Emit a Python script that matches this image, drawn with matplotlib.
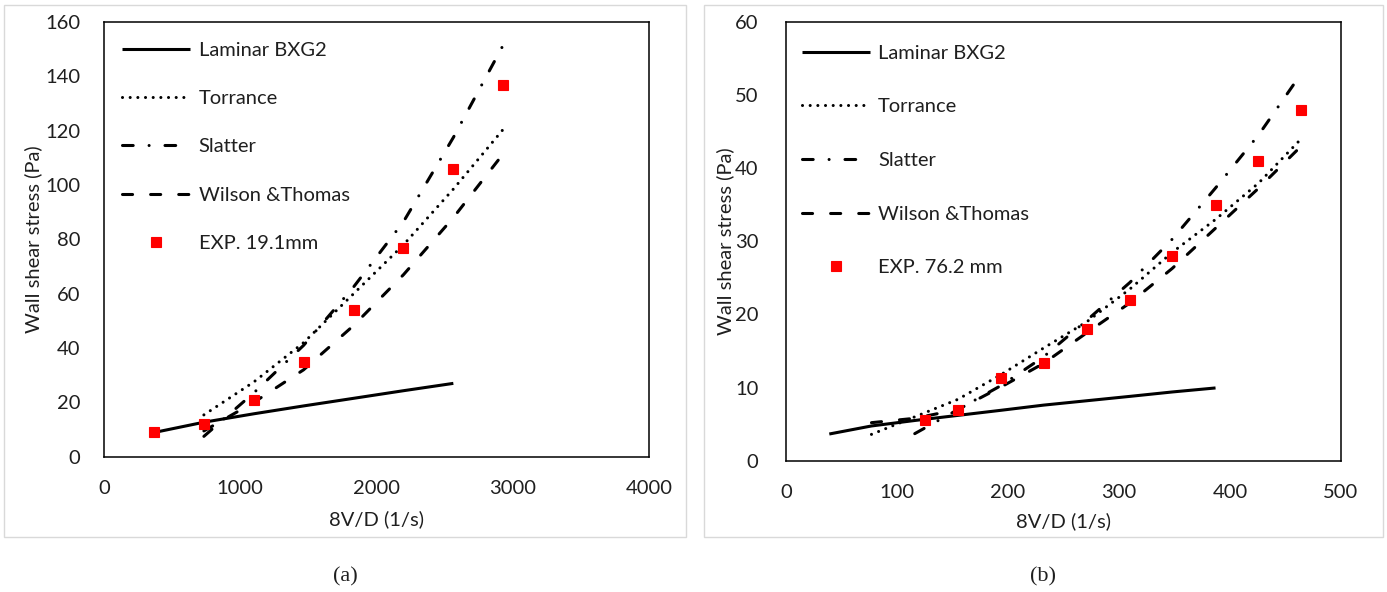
import matplotlib
matplotlib.use('Agg')
import matplotlib.pyplot as plt
from matplotlib.patches import Rectangle

plt.rcParams['font.family'] = ['Lato', 'DejaVu Sans']

# (a) 19.1 mm pipe
x_exp_a = [366, 733, 1099, 1465, 1832, 2198, 2564, 2930]
tau_exp_a = [9, 12, 21, 35, 54, 77, 106, 137]
x_lam_a = [366, 733, 1099, 1465, 1832, 2198, 2564]
tau_lam_a = [8.9, 12.7, 15.8, 18.7, 21.5, 24.3, 27.0]
x_turb_a = [733, 1099, 1465, 1832, 2198, 2564, 2930]
tau_torr_a = [15.4, 27.5, 42.0, 60.0, 78.0, 98.5, 120.5]
tau_slat_a = [7.5, 23.5, 41.0, 62.5, 86.5, 117.5, 151.5]
tau_wil_a = [9.5, 20.0, 32.0, 48.3, 67.0, 88.0, 111.5]

# (b) 76.2 mm pipe
x_exp_b = [125, 155, 194, 232, 271, 310, 348, 387, 425, 464]
tau_exp_b = [5.6, 7.0, 11.3, 13.4, 18.0, 22.0, 28.0, 35.0, 41.0, 48.0]
x_lam_b = [39, 77, 116, 155, 194, 232, 271, 310, 348, 387]
tau_lam_b = [3.65, 4.75, 5.5, 6.2, 6.9, 7.6, 8.2, 8.8, 9.4, 9.95]
x_turb_b = [77, 116, 155, 194, 232, 271, 310, 348, 387, 426, 464]
tau_torr_b = [3.6, 6.0, 8.4, 11.8, 15.4, 19.0, 23.5, 28.5, 33.0, 38.0, 44.0]
tau_wil_b = [5.2, 5.8, 7.0, 10.1, 13.3, 17.5, 21.6, 26.3, 31.8, 37.3, 43.0]
x_slat_b = [116, 155, 194, 232, 271, 310, 348, 387, 426, 464]
tau_slat_b = [3.7, 7.0, 10.3, 14.2, 19.2, 24.4, 30.3, 37.3, 44.6, 52.9]

TXT = '#1f1f1f'
FS = 14.5
LW = 2.2
DOTTED = (0, (0.01, 2.5))
DASHDOT = (0, (3.5, 5.2, 0.01, 5.2))
DASHED = (0, (3.3, 5.9))

fig = plt.figure(figsize=(13.87, 5.92), dpi=100)

# light grey frames round each chart
for x0, w in [(4, 682), (704, 679)]:
    fig.add_artist(Rectangle((x0 / 1387, 1 - 537 / 592), w / 1387, 532 / 592,
                             transform=fig.transFigure, fill=False,
                             ec='#d9d9d9', lw=1))


def draw(ax, lam, torr, slat, wil, exp, exp_label, ypad):
    ax.plot(*lam, color='black', lw=LW, solid_capstyle='butt', label='Laminar BXG2')
    ax.plot(*torr, color='black', lw=LW, ls=DOTTED, dash_capstyle='round', label='Torrance')
    ax.plot(*slat, color='black', lw=LW, ls=DASHDOT, dash_capstyle='round', label='Slatter')
    ax.plot(*wil, color='black', lw=LW, ls=DASHED, dash_capstyle='round', label='Wilson &Thomas')
    ax.plot(*exp, ls='none', marker='s', ms=7, color='red', mec='red', mew=0.8,
            label=exp_label, zorder=5)
    for s in ax.spines.values():
        s.set_color('black')
        s.set_linewidth(1.1)
    ax.tick_params(length=0, labelsize=FS, labelcolor=TXT)
    ax.tick_params(axis='x', pad=17)
    ax.tick_params(axis='y', pad=ypad)
    ax.set_xlabel('8V/D (1/s)', fontsize=FS, color=TXT, va='top')
    ax.set_ylabel('Wall shear stress (Pa)', fontsize=FS, color=TXT)


ax1 = fig.add_axes([0.0750, 0.2285, 0.3929, 0.7343])
draw(ax1, (x_lam_a, tau_lam_a), (x_turb_a, tau_torr_a), (x_turb_a, tau_slat_a),
     (x_turb_a, tau_wil_a), (x_exp_a, tau_exp_a), 'EXP. 19.1mm', 17)
ax1.set_xlim(0, 4000)
ax1.set_ylim(0, 160)
ax1.set_xticks([0, 1000, 2000, 3000, 4000])
ax1.set_yticks(range(0, 161, 20))
ax1.xaxis.set_label_coords(0.5, -0.124)
ax1.yaxis.set_label_coords(-0.114, 0.5)
ax1.legend(loc='upper left', bbox_to_anchor=(0.033, 0.955), frameon=False,
           fontsize=FS, labelcolor=TXT, handlelength=3.4, handletextpad=0.4,
           labelspacing=1.55, borderpad=0, borderaxespad=0, numpoints=1)

ax2 = fig.add_axes([0.5667, 0.2218, 0.4001, 0.7410])
draw(ax2, (x_lam_b, tau_lam_b), (x_turb_b, tau_torr_b), (x_slat_b, tau_slat_b),
     (x_turb_b, tau_wil_b), (x_exp_b, tau_exp_b), 'EXP. 76.2 mm', 20)
ax2.set_xlim(0, 500)
ax2.set_ylim(0, 60)
ax2.set_xticks(range(0, 501, 100))
ax2.set_yticks(range(0, 61, 10))
ax2.xaxis.set_label_coords(0.5, -0.118)
ax2.yaxis.set_label_coords(-0.094, 0.5)
ax2.legend(loc='upper left', bbox_to_anchor=(0.028, 0.948), frameon=False,
           fontsize=FS, labelcolor=TXT, handlelength=3.4, handletextpad=0.4,
           labelspacing=1.81, borderpad=0, borderaxespad=0, numpoints=1)

fig.text(345 / 1387, 1 - 577 / 592, '(a)', ha='center', va='center',
         fontsize=16, family='Liberation Serif', color=TXT)
fig.text(1043 / 1387, 1 - 577 / 592, '(b)', ha='center', va='center',
         fontsize=16, family='Liberation Serif', color=TXT)

fig.savefig('out.png', dpi=100)
